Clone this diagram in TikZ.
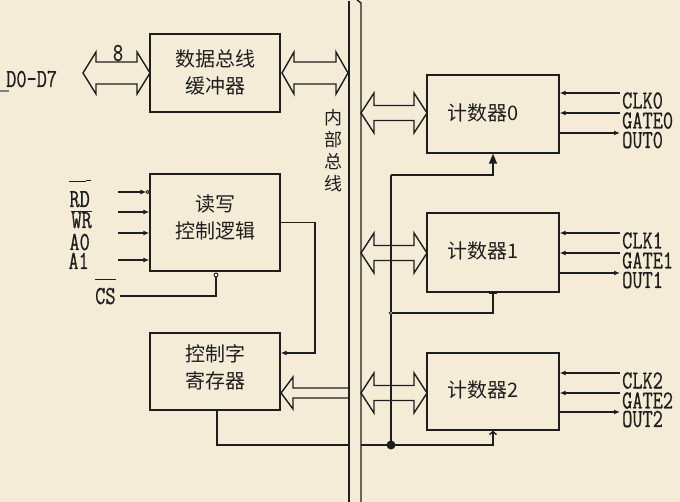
\documentclass[tikz,border=0pt]{standalone}
\usepackage{fontspec}
\newfontfamily\cjk{Noto Sans CJK SC}
\newfontfamily\mono[FakeStretch=0.76,FakeBold=0.6]{Latin Modern Mono}
\usetikzlibrary{arrows.meta,calc}
\definecolor{bg}{HTML}{F4ECD6}
\definecolor{ink}{HTML}{1E1E1E}
% fat double arrow: left tip x, right tip x, y, shaft half, head half, head length
\newcommand\dblarr[6]{\draw[ln] (#1,#3) -- ({#1+#6},{#3-#5}) -- ({#1+#6},{#3-#4}) -- ({#2-#6},{#3-#4}) -- ({#2-#6},{#3-#5}) -- (#2,#3) -- ({#2-#6},{#3+#5}) -- ({#2-#6},{#3+#4}) -- ({#1+#6},{#3+#4}) -- ({#1+#6},{#3+#5}) -- cycle;}
\begin{document}
\begin{tikzpicture}[x=1pt,y=-1pt,
  ln/.style={draw=ink,line width=1.4pt},
  box/.style={ln,rectangle,inner sep=0pt},
  cn/.style={font=\cjk\fontsize{20}{27}\selectfont,align=center,text=ink,inner sep=0pt},
  lab/.style={font=\mono\fontsize{26}{26}\selectfont,text=ink,inner sep=0pt,text height=14pt,text depth=0pt},
  tip/.style={-{Latex[length=6pt,width=5pt]}},
  ovl/.style={draw=ink,line width=1.2pt}]
\useasboundingbox[fill=bg] (0,0) rectangle (680,502);

% boxes
\node[box,minimum width=130,minimum height=78] (buf) at (215,73) {};
\node[box,minimum width=130,minimum height=97] (rw) at (215,222.5) {};
\node[box,minimum width=130,minimum height=77] (reg) at (215,371.5) {};
\node[box,minimum width=132,minimum height=78] (c0) at (493,114) {};
\node[box,minimum width=132,minimum height=79] (c1) at (493,252.5) {};
\node[box,minimum width=132,minimum height=77] (c2) at (493,391.5) {};

% box texts
\node[cn] (buft) at (215,72) {数据总线\\缓冲器};
\node[cn] (rwt) at (215,217) {读写\\控制逻辑};
\node[cn] (regt) at (215,367) {控制字\\寄存器};
\node[cn] (c0t) at (483,113) {计数器0};
\node[cn] (c1t) at (483,251) {计数器1};
\node[cn] (c2t) at (483,390) {计数器2};
\node[cn,font=\cjk\fontsize{18}{22}\selectfont] (busl) at (333,151) {内\\部\\总\\线};

% internal bus
\coordinate (bLt) at (349,1); \coordinate (bLb) at (349,502);
\coordinate (bRt) at (361,3); \coordinate (bRb) at (361,502);
\draw[ln] (bLt) -- (bLb);
\draw[ln] (bRb) -- (bRt) -- (357,0);

% fat arrows
\dblarr{83}{150}{73}{11}{21}{13}
\dblarr{282}{348}{73}{11}{21}{12}
\dblarr{361}{427}{113}{7.5}{20}{13}
\dblarr{361}{427}{253}{7.5}{20}{13}
\dblarr{361}{427}{393}{7.5}{20}{13}
\draw[ln] (349,388) -- (293,388) -- (293,377) -- (281,393) -- (293,409) -- (293,398) -- (349,398);

% data side labels
\node[lab] (eight) at (118,54) {8};
\node[lab,anchor=west] (dd) at (6,80) {D0-D7};
\draw[gray,line width=1.2pt] (0,91) -- (9,91);

% read/write inputs
\coordinate (in0) at (118,192); \coordinate (in1) at (118,212);
\coordinate (in2) at (118,233); \coordinate (in3) at (118,260);
\draw[ln,tip] (in0) -- ($(in0 -| rw.west)+(-3,0)$);
\draw[draw=ink,line width=0.9pt] ($(in0 -| rw.west)+(-1.6,0)$) circle (1.6);
\draw[ln,tip] (in1) -- (in1 -| rw.west);
\draw[ln,tip] (in2) -- (in2 -| rw.west);
\draw[ln,tip] (in3) -- (in3 -| rw.west);
\node[lab,anchor=east] (rd) at (90,200) {RD};
\node[lab,anchor=east] (wr) at (92,221) {WR};
\node[lab,anchor=east] (a0) at (90,243) {A0};
\node[lab,anchor=east] (a1) at (89,262) {A1};
\node[lab,anchor=west] (cs) at (95,297) {CS};
\draw[ovl] ($(rd.north west)+(0,-11)$) -- ($(rd.north east)+(-4,-11)$);
\draw[ovl] ($(rd.north east)+(-4,-12)$) -- ($(rd.north east)+(1,-12)$);
\draw[ovl] ($(wr.north west)+(0,-2)$) -- ($(wr.north east)+(0,-2)$);
\draw[ovl] ($(cs.north west)+(0,-10)$) -- ($(cs.north east)+(0,-10)$);

% CS line
\coordinate (csin) at (120,296);
\coordinate (csb) at (216,275);
\draw[ln] (csin) -| ($(csb)+(0,2)$);
\draw[draw=ink,line width=0.9pt,fill=bg] (csb) circle (2);

% rw -> control word register
\coordinate (bend) at (315,353);
\draw[ln,tip] (rw.east) -| (bend) -- (bend -| reg.east);

% register -> counters gate line
\coordinate (rb) at (217,445);
\coordinate (bx) at (349,445);
\coordinate (bx2) at (361,445);
\coordinate (j0) at (391,175);
\coordinate (j1) at (391,313);
\coordinate (j2) at (391,445);
\draw[ln] (reg.south -| rb) -- (rb) -- (bx);
\draw[ln,-{Straight Barb[length=3pt,width=7pt]}] (bx2) -- (j2) -| (c2.south);
\draw[ln] (j2) -- (j0);
\draw[ln,-{Triangle[length=10pt,width=8pt]}] (j0) -| (c0.south);
\draw[ln,-{Bar[width=8pt]}] (j1) -| (c1.south);
\draw[draw=ink,line width=0.9pt,fill=bg] (j1) circle (1.7);
\fill[ink] (j2) circle (4.5);

% counter side signals
\foreach \i/\yc/\yg/\yo in {0/93/113/133, 1/233/253/273, 2/373/393/412}{
  \coordinate (clk\i) at (620,\yc);
  \coordinate (gate\i) at (620,\yg);
  \coordinate (out\i) at (620,\yo);
  \draw[ln,tip] (clk\i) -- (clk\i -| c\i.east);
  \draw[ln,tip] (gate\i) -- (gate\i -| c\i.east);
  \draw[ln,tip] (out\i -| c\i.east) -- (out\i);
  \node[lab,anchor=west] (clk\i l) at (622,\yc+8.5) {CLK\i};
  \node[lab,anchor=west] (gate\i l) at (622,\yg+8.5) {GATE\i};
  \node[lab,anchor=west] (out\i l) at (622,\yo+8) {OUT\i};
}
\end{tikzpicture}
\end{document}
